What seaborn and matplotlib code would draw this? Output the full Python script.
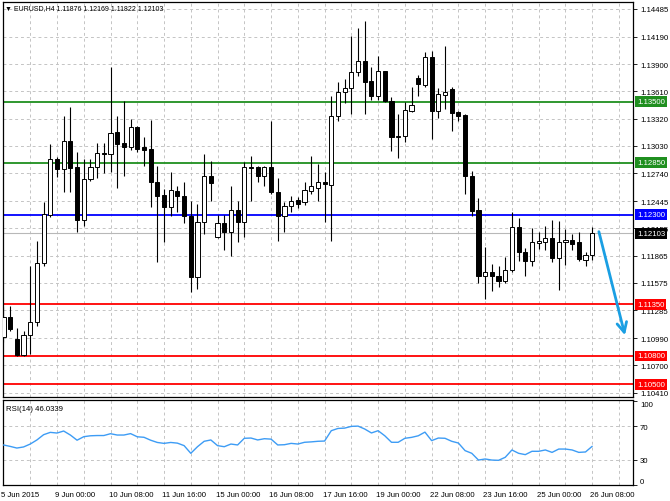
import numpy as np
import pandas as pd
import matplotlib
matplotlib.use("Agg")
import matplotlib.pyplot as plt
import matplotlib.transforms as mtransforms
import seaborn as sns

# ---------------- data ----------------
opens = [1.1100, 1.1121, 1.1098, 1.1081, 1.1102, 1.1116, 1.1179, 1.1230, 1.1289, 1.1279,
         1.1308, 1.1281, 1.1224, 1.1268, 1.1281, 1.1296, 1.1294, 1.1318, 1.1306, 1.1302,
         1.1323, 1.1302, 1.1300, 1.1265, 1.1251, 1.1238, 1.1255, 1.1250, 1.1229, 1.1164,
         1.1222, 1.1271, 1.1206, 1.1221, 1.1212, 1.1235, 1.1222, 1.1281, 1.1281, 1.1271,
         1.1281, 1.1254, 1.1229, 1.1239, 1.1246, 1.1243, 1.1255, 1.1258, 1.1265, 1.1262,
         1.1335, 1.1360, 1.1365, 1.1382, 1.1393, 1.1372, 1.1356, 1.1383, 1.1351, 1.1312,
         1.1314, 1.1340, 1.1375, 1.1368, 1.1397, 1.1340, 1.1357, 1.1364, 1.1339, 1.1336,
         1.1271, 1.1235, 1.1165, 1.1169, 1.1165, 1.1160, 1.1171, 1.1217, 1.1190, 1.1181,
         1.1200, 1.1201, 1.1205, 1.1184, 1.1201, 1.1203, 1.1201, 1.1182, 1.11876]
highs = [1.1132, 1.1133, 1.1110, 1.1106, 1.1176, 1.1202, 1.1243, 1.1305, 1.1291, 1.1335,
         1.1344, 1.1297, 1.1289, 1.1289, 1.1306, 1.1306, 1.1387, 1.1335, 1.1351, 1.1332,
         1.1324, 1.1313, 1.1331, 1.1282, 1.1257, 1.1275, 1.1260, 1.1265, 1.1245, 1.1241,
         1.1295, 1.1287, 1.1230, 1.1230, 1.1260, 1.1245, 1.1286, 1.1292, 1.1282, 1.1282,
         1.1329, 1.1269, 1.1244, 1.1250, 1.1249, 1.1265, 1.1292, 1.1284, 1.1275, 1.1356,
         1.1371, 1.1374, 1.1420, 1.1428, 1.1436, 1.1387, 1.1399, 1.1383, 1.1355, 1.1337,
         1.1350, 1.1366, 1.1378, 1.1403, 1.1404, 1.1365, 1.1409, 1.1366, 1.1340, 1.1337,
         1.1276, 1.1248, 1.1196, 1.1178, 1.1176, 1.1185, 1.1233, 1.1227, 1.1195, 1.1216,
         1.1212, 1.1218, 1.1224, 1.1223, 1.1215, 1.1210, 1.1212, 1.1190, 1.12169]
lows = [1.1095, 1.1107, 1.1080, 1.1080, 1.1082, 1.1112, 1.1175, 1.1228, 1.1270, 1.1254,
        1.1254, 1.1212, 1.1218, 1.1266, 1.1269, 1.1274, 1.1275, 1.1258, 1.1271, 1.1299,
        1.1297, 1.1282, 1.1238, 1.1180, 1.1201, 1.1229, 1.1233, 1.1221, 1.1148, 1.1151,
        1.1210, 1.1245, 1.1205, 1.1192, 1.1186, 1.1201, 1.1206, 1.1245, 1.1265, 1.1261,
        1.1252, 1.1202, 1.1212, 1.1233, 1.1237, 1.1240, 1.1252, 1.1245, 1.1222, 1.1202,
        1.1329, 1.1349, 1.1337, 1.1377, 1.1337, 1.1352, 1.1352, 1.1350, 1.1298, 1.1290,
        1.1307, 1.1339, 1.1356, 1.1366, 1.1310, 1.1333, 1.1342, 1.1319, 1.1329, 1.1252,
        1.1229, 1.1157, 1.1141, 1.1149, 1.1153, 1.1157, 1.1169, 1.1181, 1.1165, 1.1176,
        1.1194, 1.1193, 1.1180, 1.1150, 1.1177, 1.1193, 1.1181, 1.1176, 1.11822]
closes = [1.1121, 1.1109, 1.1081, 1.1102, 1.1116, 1.1179, 1.1231, 1.1289, 1.1279, 1.1308,
          1.1280, 1.1224, 1.1268, 1.1281, 1.1296, 1.1294, 1.1317, 1.1305, 1.1302, 1.1323,
          1.1300, 1.1299, 1.1265, 1.1250, 1.1238, 1.1256, 1.1250, 1.1229, 1.1164, 1.1222,
          1.1271, 1.1264, 1.1221, 1.1212, 1.1235, 1.1222, 1.1281, 1.1280, 1.1271, 1.1281,
          1.1254, 1.1229, 1.1239, 1.1245, 1.1241, 1.1256, 1.1261, 1.1265, 1.1263, 1.1335,
          1.1360, 1.1365, 1.1382, 1.1393, 1.1371, 1.1356, 1.1383, 1.1351, 1.1312, 1.1314,
          1.1341, 1.1347, 1.1369, 1.1397, 1.1340, 1.1358, 1.1360, 1.1338, 1.1335, 1.1271,
          1.1234, 1.1165, 1.1169, 1.1165, 1.1160, 1.1171, 1.1217, 1.1190, 1.1181, 1.1201,
          1.1202, 1.1205, 1.1184, 1.1201, 1.1203, 1.1199, 1.1183, 1.11876, 1.12103]
rsi_values = [47.6, 45.9, 43.9, 45.2, 48.7, 53.6, 59.9, 62.7, 61.9, 64.3,
              59.5, 53.3, 57.5, 58.6, 58.9, 58.9, 61.1, 59.5, 59.5, 61.2,
              57.4, 56.8, 53.3, 50.6, 49.5, 50.6, 49.8, 46.8, 37.6, 45.5,
              52.0, 53.6, 46.8, 45.5, 48.7, 47.6, 55.6, 55.9, 53.6, 55.1,
              54.6, 47.6, 47.9, 49.5, 48.7, 50.8, 51.3, 52.0, 52.3, 64.7,
              67.4, 67.8, 69.9, 70.2, 66.7, 62.0, 64.7, 58.6, 50.8, 50.8,
              55.6, 56.7, 58.6, 63.0, 52.8, 55.9, 55.6, 52.0, 49.9, 40.8,
              37.6, 29.5, 30.8, 29.5, 29.2, 32.8, 41.6, 37.6, 36.0, 40.0,
              40.0, 41.6, 38.7, 42.7, 42.7, 41.6, 38.7, 39.2, 46.0]
x_labels = ["5 Jun 2015", "9 Jun 00:00", "10 Jun 08:00", "11 Jun 16:00", "15 Jun 00:00",
            "16 Jun 08:00", "17 Jun 16:00", "19 Jun 00:00", "22 Jun 08:00", "23 Jun 16:00",
            "25 Jun 00:00", "26 Jun 08:00"]
price_ticks = [1.14485, 1.14190, 1.13900, 1.13610, 1.13320, 1.13030, 1.12740, 1.12445,
               1.12155, 1.11865, 1.11575, 1.11285, 1.10990, 1.10700, 1.10410]
price_tick_labels = ["1.14485", "1.14190", "1.13900", "1.13610", "1.13320", "1.13030",
                     "1.12740", "1.12445", "1.12155", "1.11865", "1.11575", "1.11285",
                     "1.10990", "1.10700", "1.10410"]
level_prices = [1.1350, 1.1285, 1.1230, 1.1135, 1.1080, 1.1050]
level_labels = ["1.13500", "1.12850", "1.12300", "1.11350", "1.10800", "1.10500"]
level_colors = ["#1f8f1f", "#1f8f1f", "#0000ff", "#ff0000", "#ff0000", "#ff0000"]
current_price = 1.12103
current_label = "1.12103"
rsi_ticks = [0, 30, 70, 100]
title_text = "\u25BC EURUSD,H4 1.11876 1.12169 1.11822 1.12103"
rsi_title = "RSI(14) 46.0339"
arrow_from = (89.0, 1.1212)
arrow_to = (92.9, 1.1102)

# ---------------- style ----------------
sns.set_style("white")
plt.rcParams["font.family"] = ["Liberation Sans", "DejaVu Sans"]
FS = 5.6

df = pd.DataFrame({"bar": np.arange(len(opens)), "open": opens, "high": highs,
                   "low": lows, "close": closes, "rsi": rsi_values})

fig = plt.figure(figsize=(6.7, 5.02), dpi=100)
W, H = 670.0, 502.0
ax = fig.add_axes([3 / W, 1 - 398 / H, 630 / W, 395 / H])
ax2 = fig.add_axes([3 / W, 1 - 486 / H, 630 / W, 85 / H])

xmin, xmax = -0.07, 94.1
grid_kw = dict(color="#c4c4c4", lw=0.7, ls=(0, (3, 3)))

# ---------------- main (price) panel ----------------
ax.set_xlim(xmin, xmax)
ax.set_ylim(1.10364, 1.14559)
ax.set_xticks(np.arange(0, 93, 4))
ax.set_xticklabels([])
ax.tick_params(axis="x", length=0)
ax.set_yticks(price_ticks)
ax.set_yticklabels(price_tick_labels)
ax.yaxis.tick_right()
ax.tick_params(axis="y", labelsize=FS, length=3, width=0.6, pad=2, direction="out", colors="black")
ax.grid(True, **grid_kw)
ax.set_axisbelow(True)

ax.axhline(current_price, color="#b8b8b8", lw=0.8, zorder=1.5)
for p, c in zip(level_prices, level_colors):
    ax.axhline(p, color=c, lw=1.3, zorder=2)

up = df["close"] >= df["open"]
ax.vlines(df["bar"], df["low"], df["high"], color="black", lw=0.8, zorder=3)
body_bottom = np.minimum(df["open"], df["close"])
body_h = np.maximum(np.abs(df["close"] - df["open"]), 0.00004)
ax.bar(df["bar"], body_h, bottom=body_bottom, width=0.62,
       color=np.where(up, "white", "black"), edgecolor="black", linewidth=0.7, zorder=4)

# right-hand price boxes
lab_tr = mtransforms.blended_transform_factory(ax.transAxes, ax.transData)
off = mtransforms.ScaledTranslation(4 / 100, 0, fig.dpi_scale_trans)
for p, lab, c in zip(level_prices, level_labels, level_colors):
    ax.text(1.0, p, lab, transform=lab_tr + off, ha="left", va="center", fontsize=FS,
            color="white", clip_on=False, zorder=10,
            bbox=dict(boxstyle="square,pad=0.25", fc=c, ec="none"))
ax.text(1.0, current_price, current_label, transform=lab_tr + off, ha="left", va="center",
        fontsize=FS, color="white", clip_on=False, zorder=10,
        bbox=dict(boxstyle="square,pad=0.25", fc="black", ec="none"))

ax.text(0.003, 0.987, title_text, transform=ax.transAxes, ha="left", va="center",
        fontsize=5.0, color="black", zorder=10)

ax.annotate("", xy=arrow_to, xytext=arrow_from,
            arrowprops=dict(arrowstyle="->,head_length=0.7,head_width=0.35",
                            color="#1a9fe3", lw=2.0, shrinkA=0, shrinkB=0), zorder=6)

for s in ax.spines.values():
    s.set_color("black")
    s.set_linewidth(0.9)

# ---------------- RSI panel ----------------
sns.lineplot(data=df, x="bar", y="rsi", ax=ax2, color="#3d9cf5", lw=1.0, zorder=3)
ax2.set_xlim(xmin, xmax)
ax2.set_ylim(-0.4, 101.5)
ax2.set_xlabel("")
ax2.set_ylabel("")
ax2.set_xticks(np.arange(0, 89, 8))
ax2.set_xticks(np.arange(0, 93, 4), minor=True)
ax2.set_xticklabels(x_labels)
ax2.tick_params(axis="x", which="major", labelsize=FS, length=3, width=0.6, pad=1.5,
                direction="out", colors="black")
ax2.tick_params(axis="x", which="minor", length=0)
ax2.grid(True, axis="x", which="both", **grid_kw)
ax2.grid(False, axis="y")
for lv in (30, 70):
    ax2.axhline(lv, zorder=1, **grid_kw)
ax2.set_yticks(rsi_ticks)
ax2.set_yticklabels([str(t) for t in rsi_ticks])
ax2.yaxis.tick_right()
ax2.tick_params(axis="y", labelsize=FS, length=3, width=0.6, pad=2, direction="out", colors="black")
ylabs = ax2.get_yticklabels()
ylabs[0].set_va("bottom")
ylabs[-1].set_va("top")
xoff = mtransforms.ScaledTranslation(-2 / 100, 0, fig.dpi_scale_trans)
for t in ax2.get_xticklabels():
    t.set_ha("left")
    t.set_transform(t.get_transform() + xoff)
ax2.text(0.005, 0.905, rsi_title, transform=ax2.transAxes, ha="left", va="center",
         fontsize=FS, color="black")
for s in ax2.spines.values():
    s.set_color("black")
    s.set_linewidth(0.9)

fig.savefig("out.png", dpi=100)
